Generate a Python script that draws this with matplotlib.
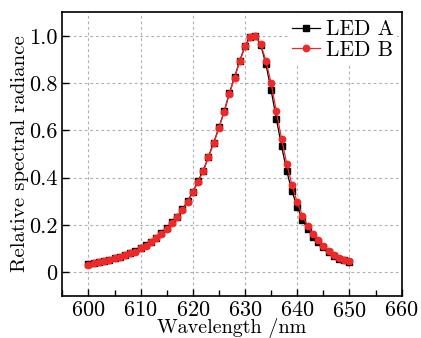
import matplotlib
matplotlib.use("Agg")
import matplotlib.pyplot as plt
from matplotlib.ticker import MultipleLocator, FuncFormatter

wavelength = list(range(600, 651))

led_b = [0.032, 0.038, 0.042, 0.046, 0.052, 0.058, 0.065, 0.072, 0.079, 0.087,
         0.100, 0.112, 0.127, 0.144, 0.162, 0.184, 0.207, 0.232, 0.263, 0.297,
         0.337, 0.382, 0.427, 0.486, 0.545, 0.610, 0.678, 0.755, 0.823, 0.893,
         0.955, 0.993, 1.000, 0.965, 0.895, 0.799, 0.680, 0.564, 0.458, 0.367,
         0.296, 0.239, 0.196, 0.162, 0.134, 0.111, 0.091, 0.073, 0.060, 0.052,
         0.045]

led_a = [0.033, 0.039, 0.043, 0.047, 0.053, 0.059, 0.066, 0.073, 0.080, 0.089,
         0.102, 0.114, 0.129, 0.146, 0.165, 0.187, 0.210, 0.235, 0.266, 0.300,
         0.340, 0.385, 0.430, 0.489, 0.548, 0.612, 0.680, 0.757, 0.826, 0.895,
         0.958, 0.996, 1.000, 0.962, 0.880, 0.770, 0.649, 0.533, 0.427, 0.342,
         0.277, 0.221, 0.182, 0.150, 0.128, 0.106, 0.086, 0.069, 0.057, 0.050,
         0.043]

plt.rcParams['font.family'] = ['cmr10', 'DejaVu Serif']
plt.rcParams['axes.formatter.use_mathtext'] = True

fig = plt.figure(figsize=(4.21, 3.38), dpi=100)
ax = fig.add_axes([0.148, 0.125, 0.806, 0.839])

ax.plot(wavelength, led_a, color='black', marker='s', markersize=4.0,
        linewidth=0.9, label='LED A', zorder=3)
ax.plot(wavelength, led_b, color='#f02828', marker='o', markersize=4.6,
        linewidth=0.9, label='LED B', zorder=4)

ax.set_xlim(595, 660)
ax.set_ylim(-0.1, 1.1)
ax.xaxis.set_major_locator(MultipleLocator(10))
ax.xaxis.set_minor_locator(MultipleLocator(5))
ax.yaxis.set_major_locator(MultipleLocator(0.2))
ax.yaxis.set_major_formatter(FuncFormatter(lambda v, p: '0' if abs(v) < 1e-9 else f'{v:.1f}'))

ax.grid(True, which='major', linestyle=(0, (2.5, 2.5)), color='#b0b0b0', linewidth=0.8)
ax.set_axisbelow(True)
ax.tick_params(which='both', direction='in', labelsize=16, top=False, right=False, pad=3.5)
ax.tick_params(which='major', length=5, width=1)
ax.tick_params(which='minor', length=4, width=1)
for s in ax.spines.values():
    s.set_linewidth(1.2)

ax.set_xlabel('Wavelength /nm', fontsize=14.5, va='baseline')
ax.xaxis.set_label_coords(0.5, -0.133)
ax.set_ylabel('Relative spectral radiance', fontsize=15, va='baseline')
ax.yaxis.label.set_rotation_mode('anchor')
ax.yaxis.set_label_coords(-0.1105, 0.5)

leg = ax.legend(loc='upper right', fontsize=15.5, frameon=True, handlelength=1.3,
                handletextpad=0.3, borderaxespad=0.2, labelspacing=0.05,
                borderpad=0.15)
leg.get_frame().set_edgecolor('none')
leg.get_frame().set_facecolor('white')
leg.get_frame().set_alpha(1)

fig.savefig('out.png', dpi=100)
